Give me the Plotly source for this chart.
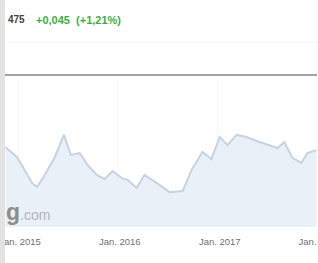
import plotly.graph_objects as go

# ---- data ----
dates = [
    "2014-11-16", "2014-12-28", "2015-01-19", "2015-02-21", "2015-03-11",
    "2015-04-02", "2015-05-16", "2015-06-18", "2015-07-13", "2015-08-15",
    "2015-09-13", "2015-10-16", "2015-11-14", "2015-12-13", "2016-01-16",
    "2016-02-07", "2016-03-10", "2016-04-08", "2016-05-22", "2016-07-09",
    "2016-08-26", "2016-09-27", "2016-11-06", "2016-12-09", "2017-01-08",
    "2017-02-06", "2017-03-11", "2017-04-16", "2017-06-03", "2017-08-08",
    "2017-09-02", "2017-10-01", "2017-11-03", "2017-11-25", "2017-12-28",
]
prices = [
    3.668, 3.635, 3.601, 3.548, 3.534,
    3.564, 3.635, 3.709, 3.642, 3.648,
    3.608, 3.575, 3.561, 3.588, 3.564,
    3.558, 3.531, 3.575, 3.548, 3.517,
    3.521, 3.591, 3.652, 3.628, 3.702,
    3.675, 3.709, 3.702, 3.685, 3.665,
    3.685, 3.632, 3.615, 3.648, 3.658,
]
tick_dates = ["2015-01-01", "2016-01-01", "2017-01-01", "2018-01-01"]
tick_labels = ["Jan. 2015", "Jan. 2016", "Jan. 2017", "Jan. 2018"]
last_value = "475"
change_text = "+0,045 &nbsp;(+1,21%)"

W, H = 318, 263
T, B = 78, 36
PH = H - T - B

fig = go.Figure()
fig.add_trace(go.Scatter(
    x=dates, y=prices, mode="lines",
    line=dict(color="#c6d3e1", width=2),
    fill="tozeroy", fillcolor="#e9f0f7",
    hoverinfo="skip",
))

fig.update_layout(
    width=W, height=H,
    margin=dict(l=0, r=0, t=T, b=B, pad=0, autoexpand=False),
    paper_bgcolor="white", plot_bgcolor="white",
    showlegend=False,
    xaxis=dict(
        range=["2014-10-27", "2018-01-03"],
        tickmode="array", tickvals=tick_dates, ticktext=tick_labels,
        tickfont=dict(family="Liberation Sans, Arial", size=9.5, color="#6f6f6f"),
        ticklabeloverflow="allow", automargin=False, ticklabelshift=2,
        showgrid=True, gridcolor="#f8f8f8", gridwidth=1,
        zeroline=False, showline=False, ticks="outside", ticklen=6,
        tickcolor="rgba(0,0,0,0)",
    ),
    yaxis=dict(
        range=[3.4, 3.9], visible=False, showgrid=False, zeroline=False,
        automargin=False,
    ),
)

# left grey border bar
fig.add_shape(type="rect", xref="paper", yref="paper",
              x0=0, x1=5 / W, y0=-B / PH, y1=1 + T / PH,
              fillcolor="#e3e3e3", line=dict(width=0), layer="above")
# separator line above the chart
fig.add_shape(type="line", xref="paper", yref="paper",
              x0=5 / W, x1=317 / W, y0=1 + 3 / PH, y1=1 + 3 / PH,
              line=dict(color="#a3a3a3", width=2))
# faint header line
fig.add_shape(type="line", xref="paper", yref="paper",
              x0=5 / W, x1=1, y0=1 + 36 / PH, y1=1 + 36 / PH,
              line=dict(color="#f4f4f4", width=1))

# header texts
fig.add_annotation(xref="paper", yref="paper", x=6 / W, y=1 + (T - 20) / PH,
                   xanchor="left", yanchor="middle", showarrow=False,
                   text="<b>" + last_value + "</b>",
                   font=dict(family="Liberation Sans, Arial", size=10, color="#444444"))
fig.add_annotation(xref="paper", yref="paper", x=34 / W, y=1 + (T - 20) / PH,
                   xanchor="left", yanchor="middle", showarrow=False,
                   text="<b>" + change_text + "</b>",
                   font=dict(family="Liberation Sans, Arial", size=11, color="#3fae3f"))

# watermark tail
fig.add_annotation(xref="paper", yref="paper", x=4 / W, y=(227 - 212) / PH,
                   xanchor="left", yanchor="middle", showarrow=False,
                   text='<span style="font-size:23px;color:#8c8c8c"><b>g</b></span>'
                        '<span style="font-size:14px;color:#b5b5b5">.com</span>',
                   font=dict(family="Liberation Sans, Arial", size=14, color="#9a9a9a"))

fig.write_html("out.html", config={"displayModeBar": False},
               post_script="document.body.style.margin='0';")
